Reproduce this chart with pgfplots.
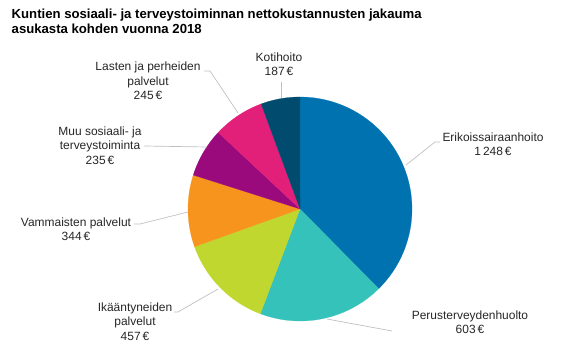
\documentclass[border=0pt]{standalone}
\usepackage{pgfplots}
\pgfplotsset{compat=1.18}
\usepackage{fontspec}
\setmainfont{Liberation Sans}
\definecolor{cE}{HTML}{0072B0}
\definecolor{cP}{HTML}{35C2BA}
\definecolor{cI}{HTML}{C0D72F}
\definecolor{cV}{HTML}{F7941D}
\definecolor{cM}{HTML}{9B0A7D}
\definecolor{cL}{HTML}{E2207A}
\definecolor{cK}{HTML}{004B6E}
\definecolor{lead}{HTML}{BFBFBF}
% values (EUR per inhabitant)
\def\vE{1248}\def\vP{603}\def\vI{457}\def\vV{344}\def\vM{235}\def\vL{245}\def\vK{187}
\pgfmathsetmacro\tot{\vE+\vP+\vI+\vV+\vM+\vL+\vK}
\pgfmathsetmacro\aA{90}
\pgfmathsetmacro\aB{\aA-360*(\vE/\tot)}
\pgfmathsetmacro\aC{\aB-360*(\vP/\tot)}
\pgfmathsetmacro\aD{\aC-360*(\vI/\tot)}
\pgfmathsetmacro\aE{\aD-360*(\vV/\tot)}
\pgfmathsetmacro\aF{\aE-360*(\vM/\tot)}
\pgfmathsetmacro\aG{\aF-360*(\vL/\tot)}
\pgfmathsetmacro\aH{\aG-360*(\vK/\tot)}
\begin{document}
\begin{tikzpicture}
\begin{axis}[width=566bp,height=364bp,scale only axis,
  xmin=0,xmax=566,ymin=0,ymax=364,hide axis,clip=false]
\path (axis cs:0,0) rectangle (axis cs:566,364);
\addplot[fill=cE,draw=cE,line width=0.2pt,domain=\aB:\aA,samples=90] ({300+112*cos(x)},{155+112*sin(x)}) -- (axis cs:300,155) -- cycle;
\addplot[fill=cP,draw=cP,line width=0.2pt,domain=\aC:\aB,samples=60] ({300+112*cos(x)},{155+112*sin(x)}) -- (axis cs:300,155) -- cycle;
\addplot[fill=cI,draw=cI,line width=0.2pt,domain=\aD:\aC,samples=50] ({300+112*cos(x)},{155+112*sin(x)}) -- (axis cs:300,155) -- cycle;
\addplot[fill=cV,draw=cV,line width=0.2pt,domain=\aE:\aD,samples=40] ({300+112*cos(x)},{155+112*sin(x)}) -- (axis cs:300,155) -- cycle;
\addplot[fill=cM,draw=cM,line width=0.2pt,domain=\aF:\aE,samples=30] ({300+112*cos(x)},{155+112*sin(x)}) -- (axis cs:300,155) -- cycle;
\addplot[fill=cL,draw=cL,line width=0.2pt,domain=\aG:\aF,samples=30] ({300+112*cos(x)},{155+112*sin(x)}) -- (axis cs:300,155) -- cycle;
\addplot[fill=cK,draw=cK,line width=0.2pt,domain=\aH:\aG,samples=30] ({300+112*cos(x)},{155+112*sin(x)}) -- (axis cs:300,155) -- cycle;
% leader lines
\draw[lead,line width=0.7pt] (axis cs:406,199) -- (axis cs:435,222) -- (axis cs:440,222);
\draw[lead,line width=0.7pt] (axis cs:327,45) -- (axis cs:392,33);
\draw[lead,line width=0.7pt] (axis cs:218,75) -- (axis cs:178,52) -- (axis cs:174,52);
\draw[lead,line width=0.7pt] (axis cs:188,152) -- (axis cs:140,140) -- (axis cs:134,140);
\draw[lead,line width=0.7pt] (axis cs:207,217) -- (axis cs:144,218);
\draw[lead,line width=0.7pt] (axis cs:238,251) -- (axis cs:210,293) -- (axis cs:204,293);
\draw[lead,line width=0.7pt] (axis cs:281,266) -- (axis cs:281,282);
% labels
\tikzset{lab/.style={align=center,inner sep=0pt,text=black!85,font=\fontsize{12}{14.5}\selectfont}}
\node[lab] at (axis cs:493,219.5) {Erikoissairaanhoito\\1\,248\,€};
\node[lab] at (axis cs:470,41.5) {Perusterveydenhuolto\\603\,€};
\node[lab] at (axis cs:135,42.5) {Ikääntyneiden\\palvelut\\457\,€};
\node[lab] at (axis cs:76,134.5) {Vammaisten palvelut\\344\,€};
\node[lab] at (axis cs:100,218.5) {Muu sosiaali- ja\\terveystoiminta\\235\,€};
\node[lab] at (axis cs:148,283) {Lasten ja perheiden\\palvelut\\245\,€};
\node[lab] at (axis cs:279,299.5) {Kotihoito\\187\,€};
% title
\node[anchor=base west,inner sep=0pt,font=\bfseries\fontsize{13.2}{15}\selectfont] at (axis cs:11.5,345.7) {Kuntien sosiaali- ja terveystoiminnan nettokustannusten jakauma};
\node[anchor=base west,inner sep=0pt,font=\bfseries\fontsize{13.2}{15}\selectfont] at (axis cs:11.5,330.7) {asukasta kohden vuonna 2018};
\end{axis}
\end{tikzpicture}
\end{document}
